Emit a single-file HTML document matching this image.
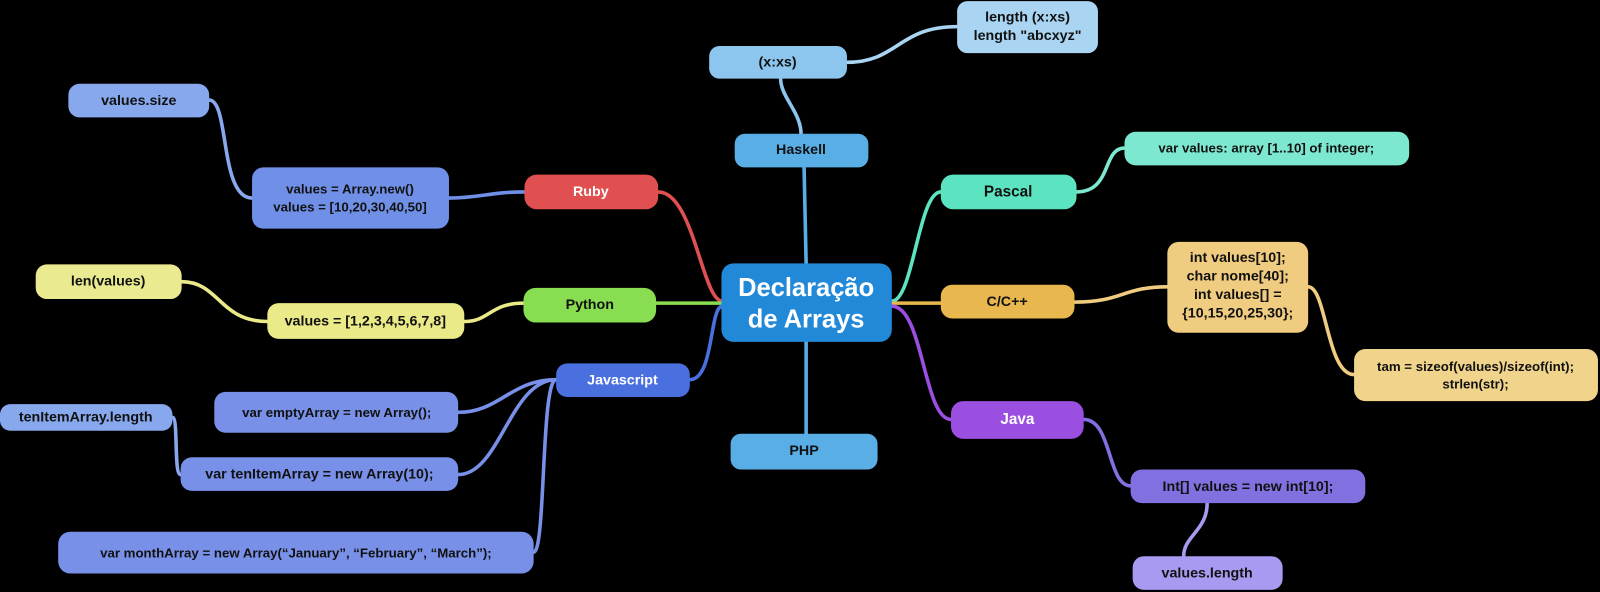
<!DOCTYPE html>
<html><head><meta charset="utf-8"><style>
html,body{margin:0;padding:0;background:#000;width:1600px;height:592px;overflow:hidden}
svg text{font-family:"Liberation Sans",Arial,sans-serif;font-weight:bold;text-anchor:middle;dominant-baseline:central}
</style></head><body>
<svg width="1600" height="592" viewBox="0 0 1568 580" xmlns="http://www.w3.org/2000/svg">
<rect width="1568" height="580" fill="#000"/>
<g fill="none" stroke-width="3.5" stroke-linecap="round">
<path d="M645,188 C680,188 688,295 708,295" stroke="#e05050"/>
<path d="M514,188 C480,188 470,194 440,194" stroke="#7090e8"/>
<path d="M247,194 C215,194 225,98 205,98" stroke="#88a8ee"/>
<path d="M643,297 L708,297" stroke="#88dd50"/>
<path d="M513,297 C480,297 480,315 455,315" stroke="#eaea88"/>
<path d="M262,315 C215,315 215,276 178,276" stroke="#eaea88"/>
<path d="M676,372 C700,372 695,300 708,300" stroke="#4a70e0"/>
<path d="M545,372 C500,372 490,404 449,404" stroke="#7890e8"/>
<path d="M545,372 C500,372 490,465 449,465" stroke="#7890e8"/>
<path d="M545,372 C530,372 535,541 523,541" stroke="#7890e8"/>
<path d="M177,465 C170,465 175,409 169,409" stroke="#88a8ee"/>
<path d="M788,164 L790,258" stroke="#5aaee6"/>
<path d="M785,131 C785,110 765,95 765,77" stroke="#8cc6ee"/>
<path d="M830,61 C880,61 880,26 938,26" stroke="#a9d4f2"/>
<path d="M790,335 L790,425" stroke="#5aaee6"/>
<path d="M922,188 C900,188 895,295 874,295" stroke="#5ce3c0"/>
<path d="M1055,188 C1090,188 1080,145 1102,145" stroke="#7de8d0"/>
<path d="M874,297 L922,297" stroke="#e8b84e"/>
<path d="M1053,296 C1100,296 1100,281 1144,281" stroke="#f0cc80"/>
<path d="M1282,281 C1300,281 1300,367 1327,367" stroke="#f0cc80"/>
<path d="M874,300 C905,300 905,411 932,411" stroke="#9a4fe0"/>
<path d="M1062,411 C1090,411 1085,476 1108,476" stroke="#8070e0"/>
<path d="M1183,493 C1183,520 1160,525 1160,545" stroke="#a89af0"/>
</g>
<g>
<rect x="938" y="1" width="138" height="51" rx="10" fill="#a9d4f2"/>
<text x="1007" y="17" font-size="14" fill="#111">length (x:xs)</text>
<text x="1007" y="35" font-size="14" fill="#111">length "abcxyz"</text>
<rect x="695" y="45" width="135" height="32" rx="10" fill="#8cc6ee"/>
<text x="762" y="61" font-size="14" fill="#111">(x:xs)</text>
<rect x="720" y="131" width="131" height="33" rx="10" fill="#5aaee6"/>
<text x="785" y="147" font-size="14" fill="#111">Haskell</text>
<rect x="707" y="258" width="167" height="77" rx="12" fill="#2288d8"/>
<text x="790" y="282" font-size="25" fill="#fff" font-weight="normal">Declaração</text>
<text x="790" y="313" font-size="25" fill="#fff" font-weight="normal">de Arrays</text>
<rect x="716" y="425" width="144" height="35" rx="10" fill="#5aaee6"/>
<text x="788" y="442" font-size="14" fill="#111">PHP</text>
<rect x="922" y="171" width="133" height="34" rx="12" fill="#5ce3c0"/>
<text x="988" y="188" font-size="15" fill="#111">Pascal</text>
<rect x="1102" y="129" width="279" height="33" rx="11" fill="#7de8d0"/>
<text x="1241" y="145" font-size="13" fill="#111" font-weight="normal">var values: array [1..10] of integer;</text>
<rect x="922" y="279" width="131" height="33" rx="11" fill="#e8b84e"/>
<text x="987" y="296" font-size="14" fill="#111">C/C++</text>
<rect x="1144" y="237" width="138" height="89" rx="11" fill="#f0cc80"/>
<text x="1213" y="253" font-size="14" fill="#111">int values[10];</text>
<text x="1213" y="271" font-size="14" fill="#111">char nome[40];</text>
<text x="1213" y="289" font-size="14" fill="#111">int values[] =</text>
<text x="1213" y="307" font-size="14" fill="#111">{10,15,20,25,30};</text>
<rect x="1327" y="342" width="239" height="51" rx="11" fill="#f0d48c"/>
<text x="1446" y="359" font-size="13" fill="#111" font-weight="normal">tam = sizeof(values)/sizeof(int);</text>
<text x="1446" y="376" font-size="13" fill="#111" font-weight="normal">strlen(str);</text>
<rect x="932" y="393" width="130" height="37" rx="12" fill="#9a4fe0"/>
<text x="997" y="411" font-size="15" fill="#fff">Java</text>
<rect x="1108" y="460" width="230" height="33" rx="11" fill="#8070e0"/>
<text x="1223" y="477" font-size="14" fill="#111">Int[] values = new int[10];</text>
<rect x="1110" y="545" width="147" height="33" rx="11" fill="#a89af0"/>
<text x="1183" y="562" font-size="14" fill="#111">values.length</text>
<rect x="514" y="171" width="131" height="34" rx="12" fill="#e05050"/>
<text x="579" y="188" font-size="14" fill="#fff">Ruby</text>
<rect x="247" y="164" width="193" height="60" rx="11" fill="#7090e8"/>
<text x="343" y="185" font-size="13" fill="#111" font-weight="normal">values = Array.new()</text>
<text x="343" y="203" font-size="13" fill="#111" font-weight="normal">values = [10,20,30,40,50]</text>
<rect x="67" y="82" width="138" height="33" rx="11" fill="#88a8ee"/>
<text x="136" y="99" font-size="14" fill="#111">values.size</text>
<rect x="513" y="282" width="130" height="34" rx="12" fill="#88dd50"/>
<text x="578" y="299" font-size="14" fill="#111">Python</text>
<rect x="262" y="297" width="193" height="35" rx="11" fill="#eaea88"/>
<text x="358" y="315" font-size="14" fill="#111">values = [1,2,3,4,5,6,7,8]</text>
<rect x="35" y="259" width="143" height="34" rx="11" fill="#eaea90"/>
<text x="106" y="276" font-size="14" fill="#111">len(values)</text>
<rect x="545" y="356" width="131" height="33" rx="11" fill="#4a70e0"/>
<text x="610" y="373" font-size="14" fill="#fff">Javascript</text>
<rect x="210" y="384" width="239" height="40" rx="11" fill="#7890e8"/>
<text x="330" y="404" font-size="13" fill="#111" font-weight="normal">var emptyArray = new Array();</text>
<rect x="0" y="396" width="169" height="26" rx="10" fill="#88a8ee"/>
<text x="84" y="409" font-size="14" fill="#111">tenItemArray.length</text>
<rect x="177" y="448" width="272" height="33" rx="11" fill="#7890e8"/>
<text x="313" y="465" font-size="14" fill="#111">var tenItemArray = new Array(10);</text>
<rect x="57" y="521" width="466" height="41" rx="12" fill="#7890e8"/>
<text x="290" y="542" font-size="13" fill="#111" font-weight="normal">var monthArray = new Array(“January”, “February”, “March”);</text>
</g>
</svg>
</body></html>
